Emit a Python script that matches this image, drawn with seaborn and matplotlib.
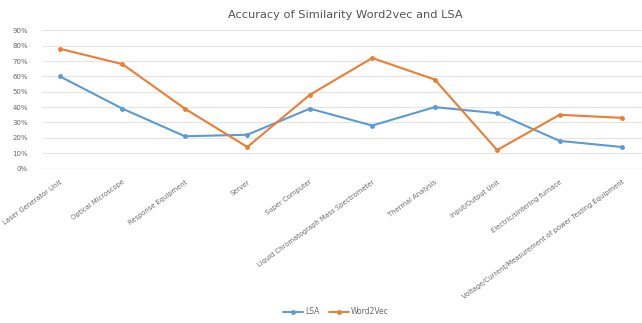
import numpy as np
import pandas as pd
import seaborn as sns
import matplotlib
matplotlib.use("Agg")
import matplotlib.pyplot as plt
from matplotlib.ticker import PercentFormatter

categories = [
    "Laser Generator Unit",
    "Optical Microscope",
    "Response Equipment",
    "Server",
    "Super Computer",
    "Liquid Chromatograph Mass Spectrometer",
    "Thermal Analysis",
    "Input/Output Unit",
    "Electric/sintering furnace",
    "Voltage/Current/Measurement of power Testing Equipment",
]
lsa = [0.60, 0.39, 0.21, 0.22, 0.39, 0.28, 0.40, 0.36, 0.18, 0.14]
word2vec = [0.78, 0.68, 0.39, 0.14, 0.48, 0.72, 0.58, 0.12, 0.35, 0.33]
series_names = ["LSA", "Word2Vec"]
colors = ["#5B9BD5", "#ED7D31"]

df = pd.DataFrame({
    "idx": list(range(len(categories))) * 2,
    "value": lsa + word2vec,
    "series": [series_names[0]] * len(lsa) + [series_names[1]] * len(word2vec),
})

sns.set_style("white")
plt.rcParams['font.family'] = ['DejaVu Sans']

fig = plt.figure(figsize=(6.42, 3.23), dpi=100)
ax = fig.add_axes([42 / 642, 1 - 168.5 / 323, 600 / 642, (168.5 - 30.4) / 323])

sns.lineplot(data=df, x="idx", y="value", hue="series", palette=colors,
             marker="o", markersize=3.5, markeredgewidth=0, linewidth=1.5,
             ax=ax, legend=False)

ax.set_xlim(-0.288, 9.32)
ax.set_ylim(0, 0.9)
ax.set_yticks(np.arange(0, 0.91, 0.1))
ax.yaxis.set_major_formatter(PercentFormatter(xmax=1, decimals=0))
ax.grid(axis="y", color="#e4e4e4", linewidth=0.8)
ax.set_axisbelow(True)
for s in ax.spines.values():
    s.set_visible(False)
ax.axhline(0, color="#d0d0d0", linewidth=0.9, zorder=1)

ax.set_xticks(range(len(categories)))
ax.set_xticklabels(categories, rotation=36, ha="right", rotation_mode="anchor",
                   fontsize=4.9, color="#6a6a6a")
ax.tick_params(axis="x", length=2.5, color="#cccccc", pad=5)
ax.tick_params(axis="y", length=0, labelsize=5.0, labelcolor="#6a6a6a", pad=10)
ax.set_xlabel("")
ax.set_ylabel("")

fig.text(345 / 642, 1 - 15 / 323, "Accuracy of Similarity Word2vec and LSA",
         ha="center", va="center", fontsize=8.2, color="#555555")

handles = [plt.Line2D([], [], color=c, marker="o", markersize=2.5, linewidth=1.4)
           for c in colors]
fig.legend(handles, series_names, loc="center", bbox_to_anchor=(336 / 642, 1 - 312 / 323),
           ncol=2, frameon=False, fontsize=5.5, handlelength=2.6, handletextpad=0.3,
           columnspacing=1.2, labelcolor="#6a6a6a")

fig.savefig("out.png", dpi=100)
